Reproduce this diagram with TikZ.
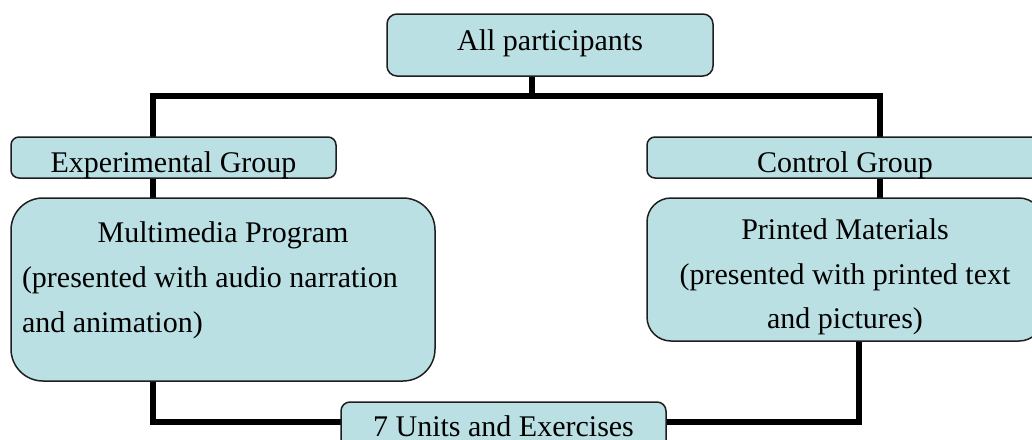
\documentclass[tikz,border=0pt]{standalone}
\usepackage{fontspec}
\setmainfont{Liberation Serif}
\usetikzlibrary{backgrounds}
\definecolor{boxfill}{RGB}{187,224,227}
\definecolor{boxline}{RGB}{30,30,30}
\tikzset{
  box/.style={draw=boxline, line width=1.5pt, fill=boxfill, inner sep=0pt, outer sep=0pt},
  txt/.style={inner sep=0pt, outer sep=0pt, font=\fontsize{30}{36}\selectfont},
  conn/.style={draw=black, line width=6pt, line join=miter}
}
\begin{document}
\begin{tikzpicture}[x=1pt,y=-1pt]
\useasboundingbox (0,0) rectangle (1032,439);
\clip (0,0) rectangle (1032,439);
% boxes
\node[box, rounded corners=10pt, minimum width=326pt, minimum height=62pt] (top) at (550,45) {};
\node[box, rounded corners=8pt, minimum width=325pt, minimum height=41pt] (exp) at (173.5,157.5) {};
\node[box, rounded corners=8pt, minimum width=396pt, minimum height=41pt] (ctl) at (845,157.5) {};
\node[box, rounded corners=32pt, minimum width=424pt, minimum height=183pt] (mm) at (223,289.5) {};
\node[box, rounded corners=24pt, minimum width=396pt, minimum height=143pt] (pm) at (845,269.5) {};
\node[box, rounded corners=9pt, minimum width=325pt, minimum height=74pt] (units) at (503.5,439) {};
% texts
\node[txt, anchor=base] (ttop) at (550,50) {All participants};
\node[txt, anchor=base] (texp) at (173.5,172) {Experimental Group};
\node[txt, anchor=base] (tctl) at (845,172) {Control Group};
\node[txt, anchor=base] (tmm1) at (223,242) {Multimedia Program};
\node[txt, anchor=base west] (tmm2) at (22,287) {(presented with audio narration};
\node[txt, anchor=base west] (tmm3) at (22,332) {and animation)};
\node[txt, anchor=base] (tpm1) at (845,239) {Printed Materials};
\node[txt, anchor=base] (tpm2) at (845,284) {(presented with printed text};
\node[txt, anchor=base] (tpm3) at (845,328) {and pictures)};
\node[txt, anchor=base] (tunits) at (503.5,436) {7 Units and Exercises};
% connector helper coordinates
\coordinate (j) at (532,96);
\coordinate (xl) at (153,0);
\coordinate (xr) at (880,0);
\coordinate (xb) at (859,0);
\coordinate (yb) at (0,422);
\begin{pgfonlayer}{background}
\draw[conn] (top.south -| j) -- (j);
\draw[conn] (exp.north -| xl) -- (xl |- j) -- (xr |- j) -- (ctl.north -| xr);
\draw[conn] (exp.south -| xl) -- (mm.north -| xl);
\draw[conn] (ctl.south -| xr) -- (pm.north -| xr);
\draw[conn] (mm.south -| xl) -- (xl |- yb) -- (units.west |- yb);
\draw[conn] (pm.south -| xb) -- (xb |- yb) -- (units.east |- yb);
\end{pgfonlayer}
\end{tikzpicture}
\end{document}
